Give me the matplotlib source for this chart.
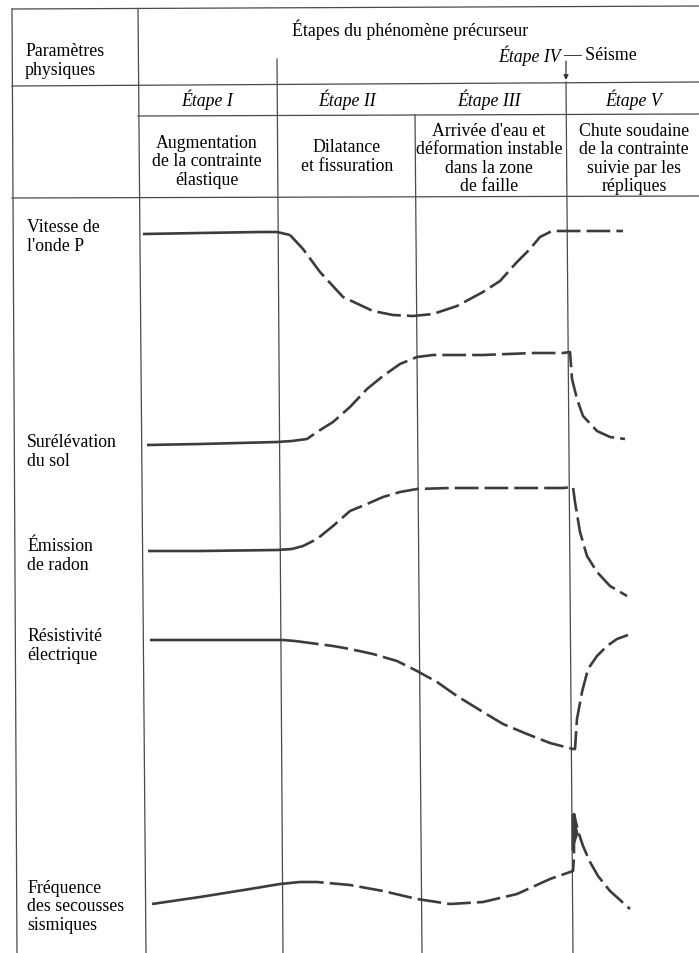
import matplotlib.pyplot as plt
from matplotlib.patches import Polygon

plt.rcParams['font.family'] = ['Liberation Serif', 'DejaVu Serif']

# curves (x, y in picture pixels, y downwards)
# each parameter: a solid part (stage I) then a dashed part
vp_solid_x = [143, 200, 260, 277, 290]
vp_solid_y = [235, 234, 233, 233, 236]
vp_dash_x = [290, 303, 320, 343, 373, 393, 413, 433, 457, 483, 500, 517, 530, 540, 552, 590, 623]
vp_dash_y = [236, 250, 273, 298, 312, 316, 317, 315, 307, 293, 282, 263, 250, 238, 232, 232, 232]

sol_solid_x = [147, 200, 277, 292]
sol_solid_y = [446, 445, 443, 442]
sol_dash_x = [292, 307, 317, 333, 350, 367, 383, 400, 417, 433, 483, 533, 563, 570, 572, 577, 583, 597, 610, 625]
sol_dash_y = [442, 440, 433, 423, 408, 390, 377, 365, 358, 356, 356, 354, 354, 353, 380, 400, 417, 432, 438, 440]

rad_solid_x = [148, 200, 277, 292]
rad_solid_y = [552, 552, 551, 550]
rad_dash_x = [292, 303, 317, 333, 350, 367, 383, 400, 417, 450, 563, 573, 575, 580, 587, 597, 610, 627]
rad_dash_y = [550, 547, 540, 527, 512, 505, 498, 493, 490, 489, 489, 488, 503, 533, 557, 573, 587, 597]

res_solid_x = [150, 220, 283, 295]
res_solid_y = [641, 641, 641, 642]
res_dash_x = [295, 333, 350, 373, 397, 417, 437, 457, 483, 503, 527, 550, 573, 575, 577, 582, 588, 597, 607, 617, 628]
res_dash_y = [642, 647, 650, 655, 662, 672, 683, 697, 713, 725, 735, 744, 750, 750, 720, 693, 670, 657, 647, 640, 636]

freq_solid_x = [152, 200, 250, 280, 300]
freq_solid_y = [905, 898, 890, 885, 883]
freq_dash_x = [300, 317, 350, 383, 417, 450, 483, 517, 550, 573, 574, 574, 578, 583, 590, 598, 610, 630]
freq_dash_y = [883, 883, 886, 892, 900, 905, 903, 895, 880, 872, 858, 815, 832, 847, 863, 877, 892, 910]

row_labels = ["Vitesse de\nl'onde P", "Surélévation\ndu sol", "Émission\nde radon",
              "Résistivité\nélectrique", "Fréquence\ndes secousses\nsismiques"]
row_label_y = [237, 452, 556, 646, 907]

stage_names = ["Étape I", "Étape II", "Étape III", "Étape V"]
stage_desc = ["Augmentation\nde la contrainte\nélastique",
              "Dilatance\net fissuration",
              "Arrivée d'eau et\ndéformation instable\ndans la zone\nde faille",
              "Chute soudaine\nde la contrainte\nsuivie par les\nrépliques"]
stage_x = [207, 347, 489, 634]
stage_desc_y = [162, 157, 159, 159]

W, H = 699, 954
fig = plt.figure(figsize=(W / 100, H / 100), dpi=100)
ax = fig.add_axes([0, 0, 1, 1])
ax.set_xlim(0, W)
ax.set_ylim(H, 0)
ax.axis('off')

# table grid (the scan is slightly tilted)
grid_kw = dict(color='#4a4a4a', lw=0.9)
ax.plot([12, 699], [10, 7], **grid_kw)
ax.plot([12, 699], [87, 83], **grid_kw)
ax.plot([138, 699], [117, 115], **grid_kw)
ax.plot([12, 699], [199, 197], **grid_kw)
ax.plot([12, 17], [10, 954], **grid_kw)
ax.plot([138, 146], [10, 954], **grid_kw)
ax.plot([277, 283], [60, 954], **grid_kw)
ax.plot([415, 422], [116, 954], **grid_kw)
ax.plot([566, 573], [83, 954], **grid_kw)

fs = 12.8
ax.text(25, 61, "Paramètres\nphysiques", fontsize=fs, ha='left', va='center', linespacing=1.1)
ax.text(410, 30, "Étapes du phénomène précurseur", fontsize=fs, ha='center', va='center')
ax.text(561, 56, "Étape IV", fontsize=fs, style='italic', ha='right', va='center')
ax.text(563, 56, "— Séisme", fontsize=fs, ha='left', va='center')
ax.annotate("", xy=(566, 81), xytext=(566, 62),
            arrowprops=dict(arrowstyle='-|>', color='#333333', lw=0.9,
                            mutation_scale=7, shrinkA=0, shrinkB=0))

for name, desc, x, y in zip(stage_names, stage_desc, stage_x, stage_desc_y):
    ax.text(x, 100, name, fontsize=fs, style='italic', ha='center', va='center')
    ax.text(x, y, desc, fontsize=fs, ha='center', va='center', linespacing=1.1)

for lab, y in zip(row_labels, row_label_y):
    ax.text(27, y, lab, fontsize=fs, ha='left', va='center', linespacing=1.12)

curve_color = '#3c3c3c'
solids = [(vp_solid_x, vp_solid_y), (sol_solid_x, sol_solid_y), (rad_solid_x, rad_solid_y),
          (res_solid_x, res_solid_y), (freq_solid_x, freq_solid_y)]
dashes = [(vp_dash_x, vp_dash_y), (sol_dash_x, sol_dash_y), (rad_dash_x, rad_dash_y),
          (res_dash_x, res_dash_y), (freq_dash_x, freq_dash_y)]
for xs, ys in solids:
    ax.plot(xs, ys, color=curve_color, lw=1.9, solid_capstyle='butt')
for xs, ys in dashes:
    ax.plot(xs, ys, color=curve_color, lw=1.9, linestyle=(0, (9, 2.3)),
            dash_capstyle='butt', solid_joinstyle='miter')

# aftershock peak
ax.add_patch(Polygon([(572, 815), (572, 852), (578, 834)], closed=True,
                     facecolor=curve_color, edgecolor=curve_color, lw=0.8))

fig.savefig('out.png', dpi=100)
